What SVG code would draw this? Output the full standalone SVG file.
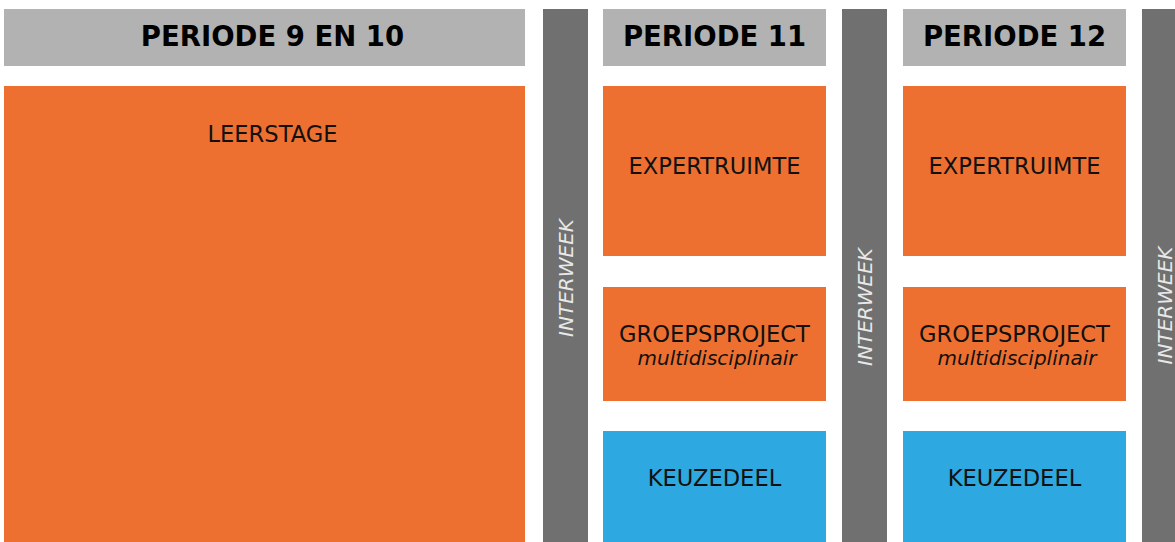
<svg xmlns="http://www.w3.org/2000/svg" width="1175" height="542" viewBox="0 0 1175 542">
<style>
.hdr{fill:#b2b2b2}
.bar{fill:#707070}
.org{fill:#ee7030}
.blu{fill:#2ea8e0}
.ht{font-family:"DejaVu Sans",Verdana,sans-serif;font-weight:bold;font-size:27.5px;fill:#000;text-anchor:middle}
.bt{font-family:"DejaVu Sans",Verdana,sans-serif;font-size:22.6px;fill:#111;text-anchor:middle}
.it{font-family:"DejaVu Sans",Verdana,sans-serif;font-style:italic;font-size:20px;fill:#111;text-anchor:middle}
.iw{font-family:"DejaVu Sans",Verdana,sans-serif;font-style:italic;font-size:20px;fill:#e8e8e8;text-anchor:middle}
</style>
<rect width="1175" height="542" fill="#fff"/>
<g id="hdr-p910"><rect class="hdr" x="4" y="9" width="521" height="57"/><text class="ht" x="272.5" y="46">PERIODE 9 EN 10</text></g>
<g id="hdr-p11"><rect class="hdr" x="603" y="9" width="223" height="57"/><text class="ht" x="714.5" y="46">PERIODE 11</text></g>
<g id="hdr-p12"><rect class="hdr" x="903" y="9" width="223" height="57"/><text class="ht" x="1014.5" y="46">PERIODE 12</text></g>
<g id="leerstage"><rect class="org" x="4" y="86" width="521" height="456"/><text class="bt" x="272.5" y="142">LEERSTAGE</text></g>
<g id="interweek1"><rect class="bar" x="543" y="9" width="45" height="533"/><text class="iw" transform="translate(572.5,278) rotate(-90)">INTERWEEK</text></g>
<g id="interweek2"><rect class="bar" x="842" y="9" width="45" height="533"/><text class="iw" transform="translate(872,307) rotate(-90)">INTERWEEK</text></g>
<g id="interweek3"><rect class="bar" x="1142" y="9" width="33" height="533"/><text class="iw" transform="translate(1172,305.5) rotate(-90)">INTERWEEK</text></g>
<g id="expert11"><rect class="org" x="603" y="86" width="223" height="170"/><text class="bt" x="714.5" y="174">EXPERTRUIMTE</text></g>
<g id="groep11"><rect class="org" x="603" y="287" width="223" height="114"/><text class="bt" x="714.5" y="342">GROEPSPROJECT</text><text class="it" x="717" y="365">multidisciplinair</text></g>
<g id="keuze11"><rect class="blu" x="603" y="431" width="223" height="111"/><text class="bt" x="714.5" y="486">KEUZEDEEL</text></g>
<g id="expert12"><rect class="org" x="903" y="86" width="223" height="170"/><text class="bt" x="1014.5" y="174">EXPERTRUIMTE</text></g>
<g id="groep12"><rect class="org" x="903" y="287" width="223" height="114"/><text class="bt" x="1014.5" y="342">GROEPSPROJECT</text><text class="it" x="1017" y="365">multidisciplinair</text></g>
<g id="keuze12"><rect class="blu" x="903" y="431" width="223" height="111"/><text class="bt" x="1014.5" y="486">KEUZEDEEL</text></g>
<g id="connectors"/>
</svg>
